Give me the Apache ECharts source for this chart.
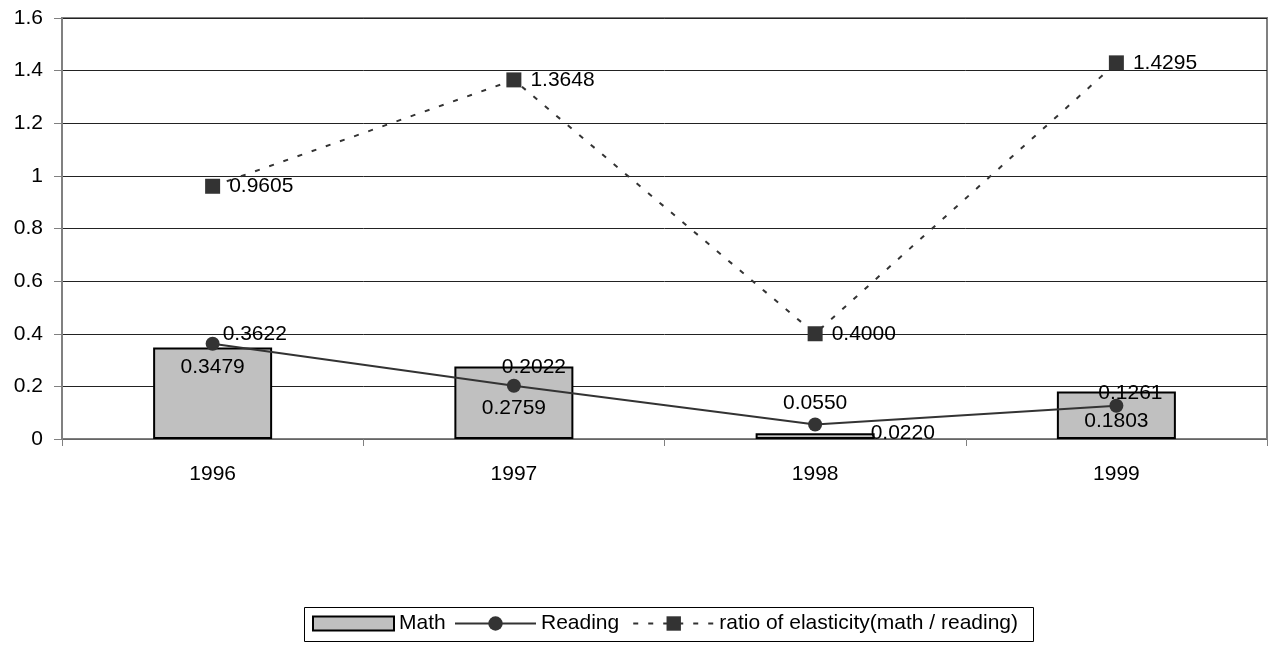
<!DOCTYPE html>
<html>
<head>
<meta charset="utf-8">
<script src="https://cdn.jsdelivr.net/npm/echarts@6/dist/echarts.min.js"></script>
<style>
html, body { margin: 0; padding: 0; background: #fff; }
#chart { width: 1275px; height: 650px; }
</style>
</head>
<body>
<div id="chart"></div>
<script>
var years = ['1996', '1997', '1998', '1999'];
var mathValues = [0.3479, 0.2759, 0.0220, 0.1803];
var readingValues = [0.3622, 0.2022, 0.0550, 0.1261];
var ratioValues = [0.9605, 1.3648, 0.4000, 1.4295];

var font = 'Liberation Sans, Arial, sans-serif';
var txt = { fontFamily: font, fontSize: 21, color: '#000' };

// per-point label placement, like the excel original
var mathLabelPos = [
    { position: 'insideTop', offset: [0, 4] },
    { position: 'insideTop', offset: [0, 26] },
    { position: 'right', offset: [-9, -3] },
    { position: 'insideTop', offset: [0, 14] }
];
var readingLabelPos = [
    { position: 'right', offset: [-2, -9] },
    { position: 'top', offset: [20, 4] },
    { position: 'top', offset: [0, 1] },
    { position: 'top', offset: [14, 10] }
];

var fmt = function (p) { return p.value.toFixed(4); };
var ratioName = 'ratio of elasticity(math / reading)';

var myChart = echarts.init(document.getElementById('chart'));
var option = {
    animation: false,
    grid: {
        left: 62,
        right: 8,
        top: 18,
        bottom: 211,
        show: true,
        borderColor: '#808080',
        borderWidth: 2
    },
    // legend box frame
    graphic: [{
        type: 'rect',
        shape: { x: 304.5, y: 607.5, width: 729, height: 34 },
        style: { fill: 'none', stroke: '#000', lineWidth: 1 },
        silent: true
    }],
    legend: [
        {
            top: 608,
            left: 307,
            data: [{ name: 'Math', icon: 'rect' }],
            itemWidth: 81,
            itemHeight: 14,
            padding: 5,
            textStyle: { fontFamily: font, fontSize: 21, color: '#000' }
        },
        {
            top: 610,
            left: 451,
            data: ['Reading', ratioName],
            itemWidth: 81,
            itemHeight: 18,
            itemGap: 13,
            padding: 3,
            textStyle: { fontFamily: font, fontSize: 21, color: '#000' }
        }
    ],
    xAxis: {
        type: 'category',
        data: years,
        axisLine: { lineStyle: { color: '#666', width: 1 } },
        axisTick: { show: true, length: 7, lineStyle: { color: '#808080' } },
        axisLabel: Object.assign({ margin: 25 }, txt)
    },
    yAxis: {
        type: 'value',
        min: 0,
        max: 1.6,
        interval: 0.2,
        axisLine: { show: true, lineStyle: { color: '#808080', width: 2 } },
        axisTick: { show: true, length: 8, lineStyle: { color: '#808080' } },
        splitLine: { lineStyle: { color: '#222', width: 1 } },
        axisLabel: Object.assign({ margin: 19, formatter: function (v) { return String(+v.toFixed(1)); } }, txt)
    },
    series: [
        {
            name: 'Math',
            type: 'bar',
            barWidth: 119,
            itemStyle: { color: '#c0c0c0', borderColor: '#000', borderWidth: 2 },
            data: mathValues.map(function (v, i) {
                return { value: v, label: mathLabelPos[i] };
            }),
            label: Object.assign({ show: true, formatter: fmt }, txt),
            z: 2
        },
        {
            name: 'Reading',
            type: 'line',
            symbol: 'circle',
            symbolSize: 14,
            itemStyle: { color: '#333' },
            lineStyle: { color: '#333', width: 2 },
            data: readingValues.map(function (v, i) {
                return { value: v, label: readingLabelPos[i] };
            }),
            label: Object.assign({ show: true, formatter: fmt }, txt),
            z: 3
        },
        {
            name: ratioName,
            type: 'line',
            symbol: 'rect',
            symbolSize: 15,
            itemStyle: { color: '#333' },
            lineStyle: { color: '#333', width: 2, type: [5, 10] },
            data: ratioValues,
            label: Object.assign({ show: true, position: 'right', distance: 9, formatter: fmt }, txt),
            z: 3
        }
    ]
};
myChart.setOption(option);
</script>
</body>
</html>
